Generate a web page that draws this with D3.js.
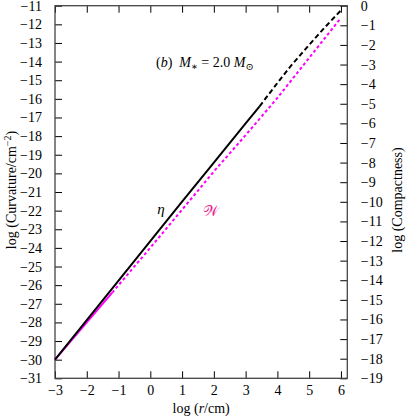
<!DOCTYPE html>
<html>
<head>
<meta charset="utf-8">
<script src="https://cdn.jsdelivr.net/npm/d3@7"></script>
<style>
  body { margin: 0; background: #fff; }
  text { font-family: "Liberation Serif", "DejaVu Serif", serif; }
</style>
</head>
<body>
<div id="chart"></div>
<script>
// Data
const xTicks = d3.range(-3, 7);
const leftTicks = d3.range(-31, -10);
const rightTicks = d3.range(-19, 1);

// eta: solid part (inside) then dashed part
const etaSolidR = [-3, -2, -1, 0, 1, 2, 3, 3.44];
const etaSolid = [-30, -27.88, -25.76, -23.64, -21.52, -19.42, -17.32, -16.4];
const etaDashR = [3.44, 4, 4.4, 5, 5.5, 6];
const etaDash = [-16.4, -15.15, -14.28, -13.1, -12.15, -11.25];

// W: magenta
const wSolidR = [-3, -2, -1.2];
const wSolid = [-30, -28.0, -26.4];
const wDashR = [-1.2, -1, 0, 1, 2, 3, 4, 5, 6];
const wDash = [-26.4, -26.0, -23.99, -21.95, -19.9, -17.95, -15.95, -13.8, -11.65];

const width = 407, height = 420;
const margin = { top: 5.7, right: 59.7, bottom: 41.7, left: 55 };

const svg = d3.select("#chart").append("svg")
    .attr("width", width)
    .attr("height", height);

const x = d3.scaleLinear().domain([-3, 6.2]).range([margin.left, width - margin.right]);
const yL = d3.scaleLinear().domain([-31, -11]).range([height - margin.bottom, margin.top]);
const yR = d3.scaleLinear().domain([-19, 0]).range([height - margin.bottom, margin.top]);

const fmt = d => d < 0 ? "\u2212" + Math.abs(d) : "" + d;

function styleAxis(g) {
    g.select(".domain").remove();
    g.selectAll(".tick line").attr("stroke", "#000").attr("stroke-width", 1);
    g.selectAll(".tick text")
        .attr("fill", "#000")
        .style("font-size", "14px")
        .style("font-family", "'Liberation Serif', serif");
}

// Bottom axis
svg.append("g")
    .attr("transform", `translate(0,${height - margin.bottom})`)
    .call(d3.axisBottom(x).tickValues(xTicks).tickFormat(fmt).tickSizeInner(-7).tickSizeOuter(0).tickPadding(7))
    .call(styleAxis);

// Top axis (mirror ticks)
svg.append("g")
    .attr("transform", `translate(0,${margin.top})`)
    .call(d3.axisTop(x).tickValues(xTicks).tickFormat("").tickSizeInner(-7).tickSizeOuter(0))
    .call(styleAxis);

// Left axis
svg.append("g")
    .attr("transform", `translate(${margin.left},0)`)
    .call(d3.axisLeft(yL).tickValues(leftTicks).tickFormat(fmt).tickSizeInner(-7).tickSizeOuter(0).tickPadding(13))
    .call(styleAxis);

// Right axis
svg.append("g")
    .attr("transform", `translate(${width - margin.right},0)`)
    .call(d3.axisRight(yR).tickValues(rightTicks).tickFormat(fmt).tickSizeInner(-7).tickSizeOuter(0).tickPadding(13.5))
    .call(styleAxis);

// Frame
svg.append("rect")
    .attr("x", margin.left)
    .attr("y", margin.top)
    .attr("width", width - margin.left - margin.right)
    .attr("height", height - margin.top - margin.bottom)
    .attr("fill", "none")
    .attr("stroke", "#444")
    .attr("stroke-width", 1.3);

const line = d3.line().x(d => x(d[0])).y(d => yL(d[1]));

function drawLine(rs, vs, color, dash) {
    svg.append("path")
        .datum(d3.zip(rs, vs))
        .attr("d", line)
        .attr("fill", "none")
        .attr("stroke", color)
        .attr("stroke-width", 2)
        .attr("stroke-dasharray", dash);
}

drawLine(wSolidR, wSolid, "#ff00ff", null);
drawLine(wDashR, wDash, "#ff00ff", "3,2.5");
drawLine(etaSolidR, etaSolid, "#000", null);
drawLine(etaDashR, etaDash, "#000", "5,3");

// Curve labels
svg.append("text")
    .attr("x", 161).attr("y", 214)
    .attr("text-anchor", "middle")
    .style("font-size", "15px")
    .style("font-style", "italic")
    .text("\u03b7");

svg.append("text")
    .attr("x", 211).attr("y", 216)
    .attr("text-anchor", "middle")
    .attr("fill", "#e8208c")
    .style("font-size", "15px")
    .text("\ud835\udcb2");

// Annotation
const ann = svg.append("text")
    .attr("x", 156).attr("y", 67)
    .style("font-size", "14px");
ann.append("tspan").text("(");
ann.append("tspan").style("font-style", "italic").text("b");
ann.append("tspan").text(")\u2002");
ann.append("tspan").style("font-style", "italic").text("M");
ann.append("tspan").attr("dy", 3).style("font-size", "10px").text("\u2217");
ann.append("tspan").attr("dy", -3).text(" = 2.0 ");
ann.append("tspan").style("font-style", "italic").text("M");
ann.append("tspan").attr("dy", 3).style("font-size", "10px").text("\u2299");

// Axis titles
const xt = svg.append("text")
    .attr("x", (margin.left + width - margin.right) / 2)
    .attr("y", 413)
    .attr("text-anchor", "middle")
    .style("font-size", "14px");
xt.append("tspan").text("log (");
xt.append("tspan").style("font-style", "italic").text("r");
xt.append("tspan").text("/cm)");

const yt = svg.append("text")
    .attr("transform", "translate(16,190) rotate(-90)")
    .attr("text-anchor", "middle")
    .style("font-size", "14px");
yt.append("tspan").text("log (Curvature/cm");
yt.append("tspan").attr("dy", -5).style("font-size", "10px").text("\u22122");
yt.append("tspan").attr("dy", 5).text(")");

svg.append("text")
    .attr("transform", "translate(402,200) rotate(-90)")
    .attr("text-anchor", "middle")
    .style("font-size", "14px")
    .text("log (Compactness)");
</script>
</body>
</html>
